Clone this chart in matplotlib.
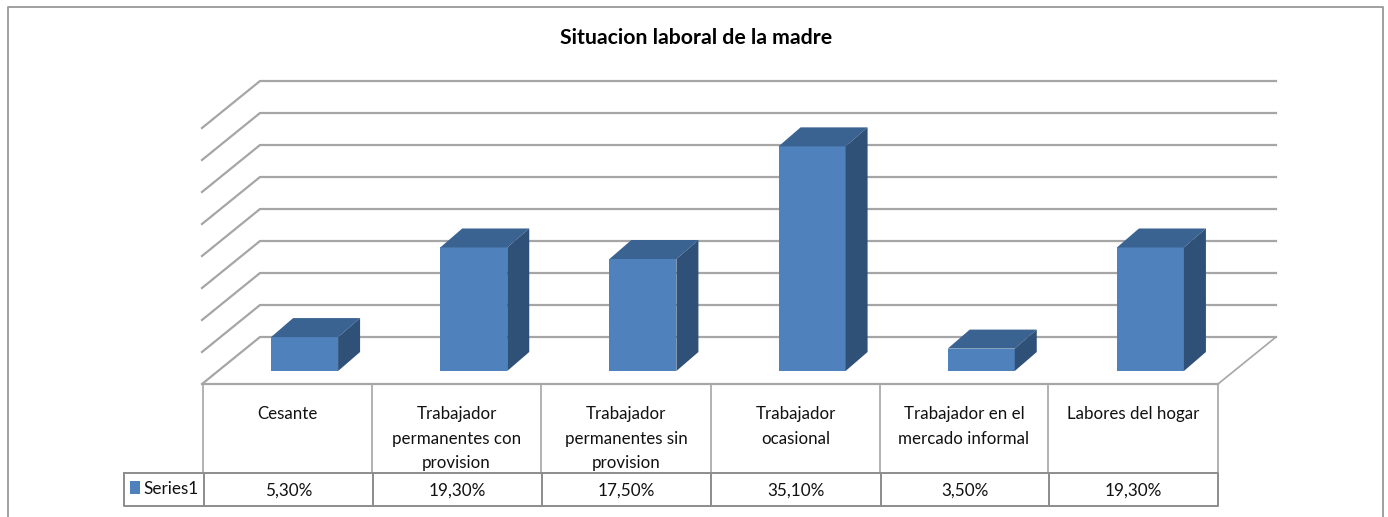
import matplotlib
matplotlib.use("Agg")
import matplotlib.pyplot as plt
from matplotlib.patches import Polygon, Rectangle

plt.rcParams['font.family'] = ['Lato', 'DejaVu Sans']

categorias = ["Cesante", "Trabajador\npermanentes con\nprovision", "Trabajador\npermanentes sin\nprovision",
              "Trabajador\nocasional", "Trabajador en el\nmercado informal", "Labores del hogar"]
valores = [5.3, 19.3, 17.5, 35.1, 3.5, 19.3]
etiquetas = ["5,30%", "19,30%", "17,50%", "35,10%", "3,50%", "19,30%"]
serie = "Series1"
titulo = "Situacion laboral de la madre"
grid_vals = [0, 5, 10, 15, 20, 25, 30, 35, 40]

W, H = 1388, 517
GRIS = "#a6a6a6"
FRENTE = "#4f81bd"
TAPA = "#3b6391"
LADO = "#2f5077"

# pixeles por unidad en cada eje
PX_CAT = (1218 - 203) / 6
PX_VAL = 6.4
X0, Y0 = 203, 371

fig = plt.figure(figsize=(W / 100, H / 100), dpi=100)

# capa en pixeles para marco y tabla
px = fig.add_axes([0, 0, 1, 1])
px.set_xlim(0, W)
px.set_ylim(H, 0)
px.axis("off")

# capa de datos: x en categorias, y en porcentaje
ax = fig.add_axes([0, 0, 1, 1])
ax.set_xlim(-X0 / PX_CAT, (W - X0) / PX_CAT)
ax.set_ylim((Y0 - H) / PX_VAL, Y0 / PX_VAL)
ax.axis("off")
ax.patch.set_alpha(0)


def dx(p):
    return p / PX_CAT


def dy(p):
    return p / PX_VAL


# marco
px.plot([8, 8, 1383, 1383], [H, 7, 7, H], color="#999999", lw=1.3)
px.text(696, 38, titulo, ha="center", va="center", fontsize=15.3, fontweight="bold", color="black")

# rejilla con el piso
base_fondo = dy(34)
for g in grid_vals:
    y = g + base_fondo
    ax.plot([dx(-1), dx(57), 6 + dx(58)], [y + dy(-47), y, y], color=GRIS, lw=1.6,
            solid_joinstyle="miter", zorder=1)
ax.plot([6, 6 + dx(58)], [base_fondo + dy(-47), base_fondo], color=GRIS, lw=1.2, zorder=1)

# barras 3d
ancho = 67 / PX_CAT
for i, v in enumerate(valores):
    x1 = i + 0.5 + dx(17) - ancho / 2
    x2 = x1 + ancho
    ox, oy = dx(22), dy(19)
    ax.add_patch(Rectangle((x1, 0), ancho, v, fc=FRENTE, ec="none", zorder=3))
    ax.add_patch(Polygon([(x1, v), (x2, v), (x2 + ox, v + oy), (x1 + ox, v + oy)], fc=TAPA, ec="none", zorder=3))
    ax.add_patch(Polygon([(x2, 0), (x2 + ox, oy), (x2 + ox, v + oy), (x2, v)], fc=LADO, ec="none", zorder=3))

# tabla
col_sup = [203, 372, 541, 711, 880, 1048, 1218]
col_inf = [204, 373, 542, 711, 881, 1049, 1218]
px.plot([203, 1218], [384, 384], color=GRIS, lw=1.6)
for c in col_sup:
    px.plot([c, c], [384, 472], color=GRIS, lw=1.2)
px.plot([124, 1218, 1218, 124, 124], [473, 473, 506, 506, 473], color="#8c8c8c", lw=1.4)
for c in col_inf[:-1]:
    px.plot([c, c], [473, 506], color="#8c8c8c", lw=1.4)
for i, nombre in enumerate(categorias):
    cx = (col_sup[i] + col_sup[i + 1]) / 2
    px.text(cx, 406, nombre, ha="center", va="top", fontsize=12.2, linespacing=1.67, color="#111111")
    px.text((col_inf[i] + col_inf[i + 1]) / 2, 491, etiquetas[i], ha="center", va="center",
            fontsize=12.3, color="#111111")

# leyenda
px.add_patch(Rectangle((130, 481), 10, 13, fc=FRENTE, ec="none"))
px.text(143, 488.5, serie, ha="left", va="center", fontsize=12.3, color="#111111")

fig.savefig("out.png", dpi=100)
